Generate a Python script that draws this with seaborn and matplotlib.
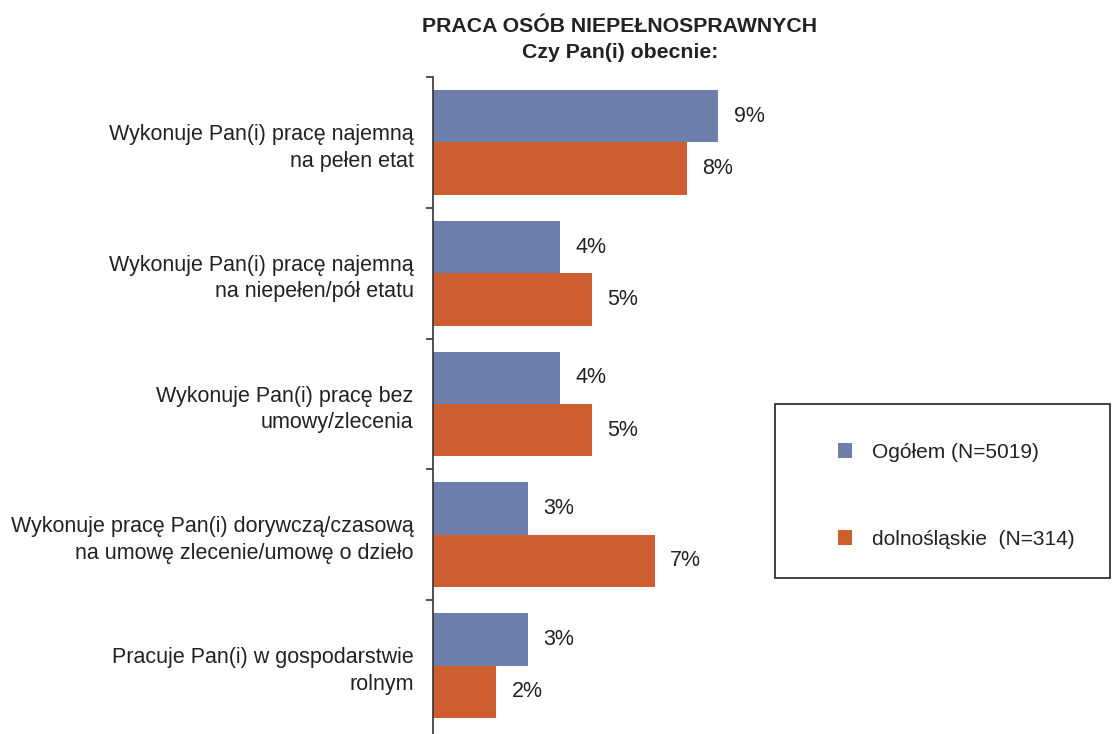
import matplotlib
matplotlib.use("Agg")
import matplotlib.pyplot as plt
import seaborn as sns
import pandas as pd
from matplotlib.patches import Rectangle, Patch

categories = [
    "Wykonuje Pan(i) pracę najemną\nna pełen etat",
    "Wykonuje Pan(i) pracę najemną\nna niepełen/pół etatu",
    "Wykonuje Pan(i) pracę bez\numowy/zlecenia",
    "Wykonuje pracę Pan(i) dorywczą/czasową\nna umowę zlecenie/umowę o dzieło",
    "Pracuje Pan(i) w gospodarstwie\nrolnym",
]
series_names = ["Ogółem (N=5019)", "dolnośląskie  (N=314)"]
ogolem = [9, 4, 4, 3, 3]
dolnoslaskie = [8, 5, 5, 7, 2]
colors = ["#6E7FAB", "#CD5E2F"]
title_lines = ["PRACA OSÓB NIEPEŁNOSPRAWNYCH", "Czy Pan(i) obecnie:"]

df = pd.DataFrame({
    "cat": categories * 2,
    "series": [series_names[0]] * len(categories) + [series_names[1]] * len(categories),
    "value": ogolem + dolnoslaskie,
})

sns.set_style("white")
plt.rcParams["font.family"] = ["Liberation Sans", "DejaVu Sans"]

FS = 15.5
W, H = 1112, 734
fig = plt.figure(figsize=(W / 100, H / 100), dpi=100)
ax_left, ax_top, ax_right, ax_bottom = 433, 77, 1112, 734
ax = fig.add_axes([ax_left / W, 1 - ax_bottom / H, (ax_right - ax_left) / W, (ax_bottom - ax_top) / H])

sns.barplot(data=df, y="cat", x="value", hue="series", orient="h", palette=colors,
            width=0.8, ax=ax, saturation=1, legend=False, edgecolor="none", linewidth=0)

px_per_unit = 31.7
ax.set_xlim(0, (ax_right - ax_left) / px_per_unit)
ax.set_ylim(len(categories) - 0.5 + (737 - 734) / 132, -0.5)

for cont in ax.containers:
    ax.bar_label(cont, labels=[f"{v:.0f}%" for v in cont.datavalues], padding=11,
                 fontsize=FS, color="#222222")

ax.set_xlabel("")
ax.set_ylabel("")
ax.set_xticks([])
ax.tick_params(axis="y", which="major", length=0, pad=14, labelsize=FS, labelcolor="#222222")
ax.set_yticks([i - 0.5 for i in range(len(categories))], minor=True)
ax.tick_params(axis="y", which="minor", left=True, length=5, width=1.2, color="#333333",
               direction="out")
for s in ["top", "right", "bottom"]:
    ax.spines[s].set_visible(False)
ax.spines["left"].set_color("#333333")
ax.spines["left"].set_linewidth(1.2)
for lbl in ax.get_yticklabels():
    lbl.set_horizontalalignment("right")
    lbl.set_multialignment("right")
    lbl.set_linespacing(1.35)

fig.text(620 / W, 1 - 26 / H, title_lines[0], ha="center", va="center",
         fontsize=15.3, fontweight="bold", color="#222222")
fig.text(620 / W, 1 - 52 / H, title_lines[1], ha="center", va="center",
         fontsize=15.3, fontweight="bold", color="#222222")

# legend frame
fig.patches.append(Rectangle((775 / W, 1 - 578 / H), (1110 - 775) / W, (578 - 404) / H,
                             transform=fig.transFigure, fill=False, edgecolor="#222222",
                             linewidth=1.2))
handles = [Patch(facecolor=c, edgecolor="none") for c in colors]
fig.legend(handles, series_names, loc="upper left", bbox_to_anchor=(819 / W, 1 - 424 / H),
           frameon=False, fontsize=15, handlelength=0.7, handleheight=0.7,
           handletextpad=0.95, labelspacing=3.28, labelcolor="#222222")

fig.savefig("out.png", dpi=100)
